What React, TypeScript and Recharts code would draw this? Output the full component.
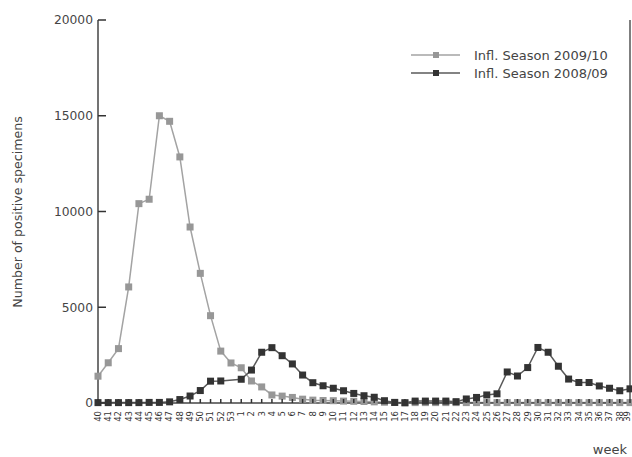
import React from 'react';
import { LineChart, Line, XAxis, YAxis, Legend, ReferenceLine } from 'recharts';

const weeks: string[] = [
  '40', '41', '42', '43', '44', '45', '46', '47', '48', '49', '50', '51', '52', '53',
  '1', '2', '3', '4', '5', '6', '7', '8', '9', '10', '11', '12', '13', '14', '15', '16', '17', '18', '19', '20',
  '21', '22', '23', '24', '25', '26', '27', '28', '29', '30', '31', '32', '33', '34', '35', '36', '37', '38', '39',
];

const season200910: number[] = [
  1400, 2100, 2840, 6060, 10410, 10640, 15000, 14710, 12850, 9190, 6770, 4560, 2710, 2090,
  1840, 1150, 840, 420, 360, 290, 200, 150, 130, 120, 100, 90, 80, 60, 40, 30, 20, 20, 20, 20,
  20, 20, 20, 20, 20, 20, 20, 20, 20, 20, 20, 20, 20, 20, 20, 20, 20, 20, 20,
];

const season200809: (number | null)[] = [
  20, 20, 20, 20, 20, 30, 30, 60, 180, 365, 650, 1140, 1150, null,
  1240, 1720, 2650, 2890, 2470, 2040, 1460, 1060, 900, 770, 640, 500, 380, 300, 120, 30, 10, 100, 100, 100,
  100, 70, 210, 290, 420, 480, 1620, 1410, 1850, 2900, 2650, 1920, 1250, 1070, 1070, 890, 770, 640, 740,
];

const yTicks: number[] = [0, 5000, 10000, 15000, 20000];

const seriesNames = ['Infl. Season 2009/10', 'Infl. Season 2008/09'];
const seriesColors = { line0: '#a3a3a3', dot0: '#979797', line1: '#5a5a5a', dot1: '#333333' };

const data = weeks.map((w, i) => ({ week: w, s0910: season200910[i], s0809: season200809[i] }));

const FONT = '"DejaVu Sans", Verdana, sans-serif';

const SquareDot = (color: string) => (props: any) => {
  const { cx, cy, value } = props;
  if (value === null || value === undefined || cx == null || cy == null) return null;
  return <rect x={cx - 3.5} y={cy - 3.5} width={7} height={7} fill={color} />;
};

const XTick = (props: any) => {
  const { x, y, payload } = props;
  const tx = Math.min(x, 627.5);
  return (
    <g>
      <line x1={x} y1={y - 4} x2={x} y2={y} stroke="#333" strokeWidth={1.5} />
      <text
        transform={`translate(${tx},${y + 8}) rotate(-90)`}
        textAnchor="end"
        dy="0.33em"
        fontSize={8.5}
        fontFamily={FONT}
        fill="#333"
      >
        {payload.value}
      </text>
    </g>
  );
};

const YTick = (props: any) => {
  const { x, y, payload } = props;
  return (
    <g>
      <line x1={x} y1={y} x2={x + 8} y2={y} stroke="#333" strokeWidth={1.5} />
      <text x={x - 5} y={y} dy="0.35em" textAnchor="end" fontSize={12.3} fontFamily={FONT} fill="#444">
        {payload.value}
      </text>
    </g>
  );
};

const YLabel = () => (
  <text
    transform="translate(22,212) rotate(-90)"
    textAnchor="middle"
    fontSize={12.6}
    fontFamily={FONT}
    fill="#444"
  >
    Number of positive specimens
  </text>
);

const WeekLabel = () => (
  <text x={627} y={454} textAnchor="end" fontSize={13} fontFamily={FONT} fill="#444">
    week
  </text>
);

const LegendContent = () => {
  const rows = [
    { name: seriesNames[0], line: seriesColors.line0, dot: seriesColors.dot0 },
    { name: seriesNames[1], line: seriesColors.line1, dot: seriesColors.dot1 },
  ];
  return (
    <div style={{ fontFamily: FONT, fontSize: 13, color: '#444' }}>
      {rows.map((r) => (
        <div key={r.name} style={{ display: 'flex', alignItems: 'center', height: 18 }}>
          <svg width={50} height={10} style={{ marginRight: 13 }}>
            <line x1={0} y1={5} x2={49} y2={5} stroke={r.line} strokeWidth={1.5} />
            <rect x={22} y={2} width={6} height={6} fill={r.dot} />
          </svg>
          <span>{r.name}</span>
        </div>
      ))}
    </div>
  );
};

export default function App() {
  return (
    <div style={{ position: 'absolute', left: 0, top: 0, width: 632, height: 457, background: '#fff' }}>
      <LineChart width={632} height={457} data={data} margin={{ top: 20, right: 2, left: 0, bottom: 0 }}>
        <XAxis
          dataKey="week"
          interval={0}
          height={54}
          tickSize={0}
          tickMargin={0}
          tickLine={false}
          axisLine={{ stroke: '#444', strokeWidth: 1.5 }}
          tick={<XTick />}
          padding={{ left: 0, right: 0 }}
          label={{ content: () => <WeekLabel /> }}
        />
        <YAxis
          width={98}
          domain={[0, 20000]}
          ticks={yTicks}
          interval={0}
          tickSize={0}
          tickMargin={0}
          tickLine={false}
          axisLine={{ stroke: '#444', strokeWidth: 1.5 }}
          tick={<YTick />}
          label={{ content: () => <YLabel /> }}
        />
        <ReferenceLine x="39" stroke="#555" strokeWidth={1.5} />
        <Legend
          layout="vertical"
          align="center"
          verticalAlign="middle"
          content={<LegendContent />}
          wrapperStyle={{ position: 'absolute', top: 46, left: 411, width: 221, height: 40 }}
        />
        <Line
          type="linear"
          dataKey="s0910"
          name={seriesNames[0]}
          stroke={seriesColors.line0}
          strokeWidth={1.5}
          dot={SquareDot(seriesColors.dot0)}
          activeDot={false}
          isAnimationActive={false}
        />
        <Line
          type="linear"
          dataKey="s0809"
          name={seriesNames[1]}
          stroke={seriesColors.line1}
          strokeWidth={1.5}
          connectNulls
          dot={SquareDot(seriesColors.dot1)}
          activeDot={false}
          isAnimationActive={false}
        />
      </LineChart>
    </div>
  );
}
